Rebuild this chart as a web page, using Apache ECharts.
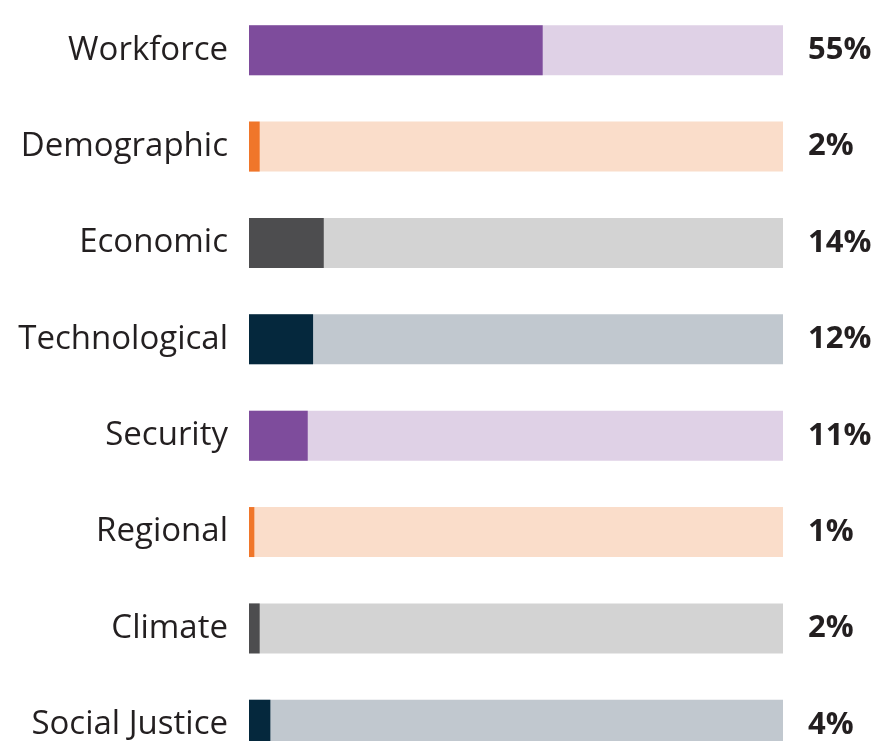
<!DOCTYPE html>
<html><head><meta charset="utf-8">
<script src="https://cdn.jsdelivr.net/npm/echarts@6/dist/echarts.min.js"></script>
<style>html,body{margin:0;padding:0;background:#fff}#c{width:873px;height:741px}</style>
</head><body><div id="c"></div>
<script>
const categories = ['Workforce','Demographic','Economic','Technological','Security','Regional','Climate','Social Justice'];
const values = [55, 2, 14, 12, 11, 1, 2, 4];
const darkColors = ['#7E4C9C','#F0762A','#4D4D4F','#05283D','#7E4C9C','#F0762A','#4D4D4F','#05283D'];
const lightColors = ['#DFD1E6','#FADDCA','#D3D3D3','#C1C8CF','#DFD1E6','#FADDCA','#D3D3D3','#C1C8CF'];
const fullScale = 100;

const chart = echarts.init(document.getElementById('c'), null, {renderer:'canvas'});
chart.setOption({
  animation:false,
  grid:{left:249, right:90, top:2, height:771, containLabel:false, outerBoundsMode:'none'},
  xAxis:{type:'value', min:0, max:fullScale, show:false},
  yAxis:{type:'category', data:categories, inverse:true,
    axisLine:{show:false}, axisTick:{show:false}, splitLine:{show:false},
    axisLabel:{margin:21, color:'#231F20', fontSize:33, fontFamily:'Open Sans', padding:[6,0,0,0]}},
  series:[
    {type:'bar', barWidth:50, silent:true,
     data: categories.map((c,i)=>({value:fullScale, itemStyle:{color:lightColors[i]}})),
     label:{show:true, position:'right', distance:25, color:'#231F20', fontSize:31, fontWeight:'bold', fontFamily:'Open Sans',
       padding:[5,0,0,0], formatter:p=>values[p.dataIndex]+'%'}},
    {type:'bar', barWidth:50, barGap:'-100%',
     data: values.map((v,i)=>({value:v, itemStyle:{color:darkColors[i]}}))}
  ]
});
</script></body></html>
